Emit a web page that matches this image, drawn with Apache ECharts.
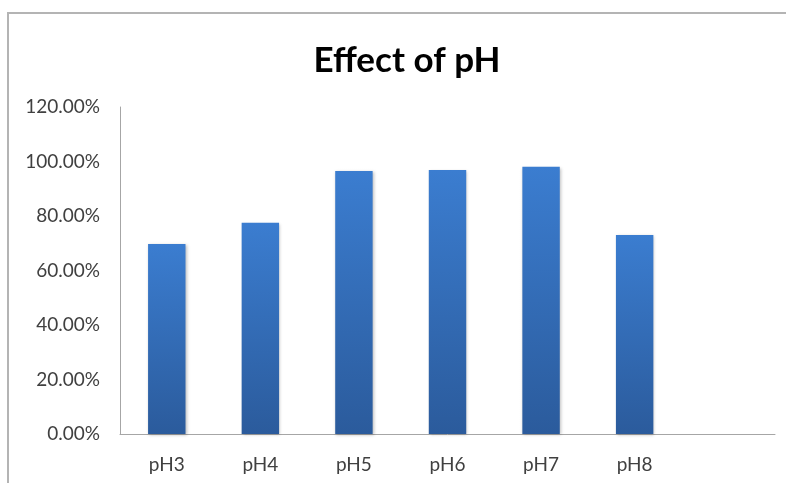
<!DOCTYPE html>
<html>
<head>
<meta charset="utf-8">
<script src="https://cdn.jsdelivr.net/npm/echarts@6/dist/echarts.min.js"></script>
<style>
html,body{margin:0;padding:0;background:#fff;}
#c{width:786px;height:483px;}
</style>
</head>
<body>
<div id="c"></div>
<script>
const titleText = "Effect of pH";
const categories = ["pH3", "pH4", "pH5", "pH6", "pH7", "pH8", ""];
const values = [0.697, 0.775, 0.965, 0.969, 0.981, 0.730, null];
const yTicks = [0, 0.2, 0.4, 0.6, 0.8, 1.0, 1.2];

const chart = echarts.init(document.getElementById('c'), null, {renderer: 'canvas'});
chart.setOption({
  animation: false,
  backgroundColor: '#ffffff',
  graphic: [{
    type: 'rect',
    shape: {x: 8, y: 13, width: 800, height: 500},
    style: {fill: 'none', stroke: '#b4b4b4', lineWidth: 2},
    silent: true
  }],
  title: {
    text: titleText,
    left: 402,
    textAlign: 'center',
    top: 38,
    textStyle: {fontFamily: 'Lato', fontWeight: 'bold', fontSize: 35, color: '#000'}
  },
  grid: {left: 120, right: 11, top: 107, bottom: 49, containLabel: false},
  xAxis: {
    type: 'category',
    data: categories,
    axisLine: {lineStyle: {color: '#a6a6a6', width: 1}},
    axisTick: {show: false},
    axisLabel: {color: '#404040', fontFamily: 'Lato', fontSize: 19, margin: 21}
  },
  yAxis: {
    type: 'value',
    min: yTicks[0],
    max: yTicks[yTicks.length - 1],
    interval: 0.2,
    axisLine: {show: true, lineStyle: {color: '#a6a6a6', width: 1}},
    axisTick: {show: false},
    splitLine: {show: false},
    axisLabel: {
      color: '#404040', fontFamily: 'Lato', fontSize: 19, margin: 20,
      formatter: v => (v * 100).toFixed(2) + '%'
    }
  },
  series: [{
    type: 'bar',
    data: values,
    barWidth: '40%',
    itemStyle: {
      color: new echarts.graphic.LinearGradient(0, 0, 0, 1, [
        {offset: 0, color: '#3b7dd0'},
        {offset: 1, color: '#2b5b9c'}
      ]),
      shadowColor: 'rgba(0,0,0,0.25)',
      shadowBlur: 3,
      shadowOffsetX: 1,
      shadowOffsetY: 1
    }
  }]
});
</script>
</body>
</html>
